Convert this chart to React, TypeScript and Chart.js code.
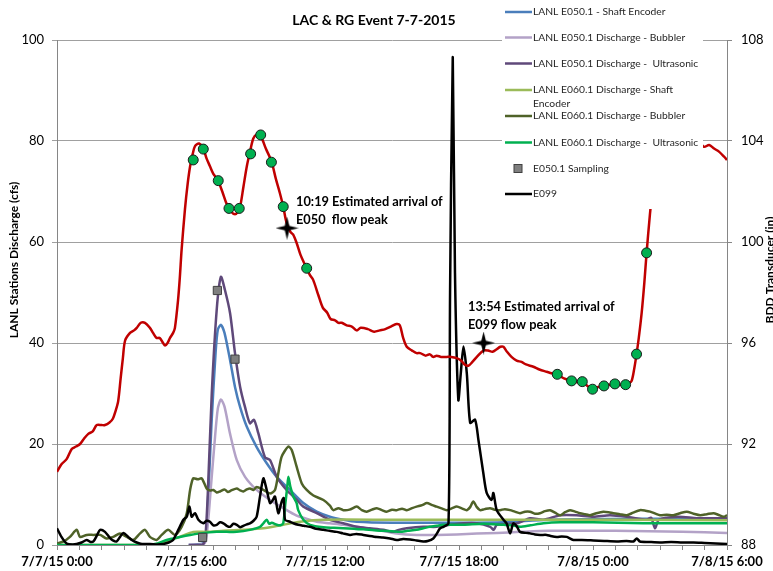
import React, { useEffect, useRef } from 'react';
import { Chart, registerables } from 'chart.js';

Chart.register(...registerables);

// ---- Tick labels / text ----
const xTickLabels = ['7/7/15 0:00', '7/7/15 6:00', '7/7/15 12:00', '7/7/15 18:00', '7/8/15 0:00', '7/8/15 6:00'];
const chartTitle = 'LAC & RG Event 7-7-2015';
const leftAxisTitle = 'LANL Stations Discharge (cfs)';
const rightAxisTitle = 'BDD Transducer (in)';
const note1 = ['10:19 Estimated arrival of', 'E050  flow peak'];
const note2 = ['13:54 Estimated arrival of', 'E099 flow peak'];

// ---- Data: [hours since 7/7/15 0:00, value] ----
const bddTransducer: number[][] = [
  [0, 90.9], [0.2, 91.2], [0.43, 91.4], [0.66, 91.8], [0.85, 91.9], [1.03, 92.0], [1.2, 92.2], [1.4, 92.4], [1.6, 92.5],
  [1.78, 92.75], [2.0, 92.75], [2.15, 92.75], [2.35, 92.85], [2.5, 93.0], [2.62, 93.3], [2.74, 93.7], [2.85, 94.6],
  [2.95, 95.4], [3.05, 96.1], [3.27, 96.4], [3.45, 96.5], [3.57, 96.6], [3.75, 96.8], [3.94, 96.8], [4.16, 96.6],
  [4.3, 96.4], [4.46, 96.2], [4.6, 96.2], [4.75, 96.0], [4.84, 95.9], [4.95, 96.0], [5.06, 96.2], [5.2, 96.4],
  [5.28, 96.6], [5.42, 97.7], [5.5, 98.6], [5.58, 99.7], [5.73, 101.3], [5.85, 102.3], [5.96, 103.0], [6.08, 103.5],
  [6.18, 103.8], [6.36, 103.9], [6.55, 103.7], [6.7, 103.3], [6.85, 103.0], [7.0, 102.7], [7.2, 102.45], [7.4, 102.0],
  [7.6, 101.5], [7.8, 101.2], [7.97, 101.1], [8.1, 101.2], [8.2, 101.4], [8.35, 102.2], [8.5, 103.0], [8.65, 103.6],
  [8.79, 104.1], [8.95, 104.25], [9.12, 104.2], [9.35, 103.7], [9.6, 103.2], [9.8, 102.5], [9.99, 101.9], [10.13, 101.4],
  [10.28, 100.75], [10.45, 100.4], [10.57, 100.3], [10.73, 99.96], [10.9, 99.5], [11.05, 99.2], [11.18, 98.97],
  [11.32, 98.7], [11.47, 98.5], [11.7, 97.9], [11.9, 97.4], [12.1, 97.2], [12.25, 96.95], [12.45, 96.9], [12.6, 96.8],
  [12.75, 96.8], [12.97, 96.7], [13.2, 96.65], [13.42, 96.5], [13.6, 96.6], [13.92, 96.55], [14.2, 96.45], [14.45, 96.5],
  [14.7, 96.55], [14.95, 96.65], [15.2, 96.75], [15.35, 96.7], [15.5, 96.2], [15.66, 95.85], [15.9, 95.7], [16.1, 95.6],
  [16.26, 95.6], [16.5, 95.5], [16.7, 95.55], [16.84, 95.45], [17.0, 95.5], [17.2, 95.45], [17.45, 95.45], [17.65, 95.45],
  [17.9, 95.4], [18.1, 95.3], [18.25, 95.15], [18.42, 95.1], [18.6, 95.25], [18.8, 95.45], [19.09, 95.7], [19.3, 95.7],
  [19.5, 95.65], [19.69, 95.75], [19.85, 95.85], [19.99, 95.85], [20.15, 95.65], [20.35, 95.45], [20.58, 95.3],
  [20.8, 95.25], [21.0, 95.15], [21.33, 95.06], [21.6, 94.95], [21.93, 94.86], [22.15, 94.8], [22.4, 94.76], [22.7, 94.6],
  [23.04, 94.5], [23.3, 94.45], [23.52, 94.47], [23.75, 94.3], [23.98, 94.17], [24.2, 94.25], [24.49, 94.3], [24.75, 94.35],
  [24.98, 94.38], [25.2, 94.35], [25.46, 94.35], [25.6, 94.4], [25.73, 94.5], [25.85, 95.0], [25.95, 95.56], [26.05, 96.2],
  [26.18, 97.2], [26.3, 98.4], [26.4, 99.57], [26.55, 101.1], [26.75, 102.8], [27.0, 104.2], [27.4, 105.0], [27.9, 105.2],
  [28.4, 104.6], [28.75, 104.0], [28.97, 103.77], [29.2, 103.84], [29.42, 103.7], [29.64, 103.58], [29.87, 103.38], [30.0, 103.25],
];

const rgSamples: number[][] = [
  [6.1, 103.25], [6.55, 103.68], [7.22, 102.43], [7.7, 101.33], [8.16, 101.33], [8.67, 103.49], [9.12, 104.24],
  [9.6, 103.16], [10.13, 101.4], [11.18, 98.96], [22.4, 94.76], [23.04, 94.5], [23.52, 94.47], [23.98, 94.17],
  [24.49, 94.3], [24.98, 94.38], [25.46, 94.35], [25.95, 95.56], [26.4, 99.57],
];

const peakArrivals: number[][] = [[10.3, 100.55], [19.1, 96.0]];

const e050ShaftEncoder: number[][] = [
  [5.9, 0], [6.6, 0.5], [6.75, 8], [6.93, 25], [7.1, 38], [7.2, 42.6], [7.34, 43.6], [7.5, 42], [7.75, 36.6], [7.97, 31.3],
  [8.2, 27.3], [8.5, 23.4], [8.94, 19.4], [9.39, 16.2], [9.84, 13.5], [10.43, 10.9], [11.03, 8.3], [11.63, 6.6],
  [12.22, 5.6], [12.82, 5.0], [13.42, 4.6], [15, 4.4], [18, 4.4], [20, 4.5], [22, 5.0], [26, 5.2], [30, 5.2],
];

const e050Bubbler: number[][] = [
  [5.9, 0], [6.6, 0.3], [6.75, 4], [6.9, 12], [7.05, 20], [7.2, 27], [7.34, 28.8], [7.5, 27.4], [7.75, 22], [8.05, 16.8],
  [8.42, 13.5], [8.94, 10.9], [9.54, 8.9], [10.13, 7.3], [10.73, 5.8], [11.03, 5.4], [11.63, 4.6], [12.22, 4.3],
  [12.82, 4.0], [13.42, 3.6], [14.32, 3.0], [15.21, 2.3], [16.1, 2.0], [17.0, 2.0], [17.9, 2.1], [18.8, 2.3], [19.7, 2.4],
  [20.73, 2.6], [22, 2.8], [25, 2.8], [28, 2.6], [30, 2.4],
];

const e050Ultrasonic: number[][] = [
  [5.9, 0], [6.5, 0], [6.63, 1], [6.75, 10], [6.93, 30], [7.15, 46.5], [7.34, 53.1], [7.52, 50.5], [7.75, 45.9], [7.97, 38],
  [8.2, 31.3], [8.42, 27.3], [8.64, 24.1], [8.82, 24.8], [9.01, 22.2], [9.31, 17.4], [9.54, 16.8], [9.84, 13.5],
  [10.28, 10.9], [10.73, 9.0], [11.03, 7.6], [11.63, 6.3], [12.22, 5.0], [12.82, 4.3], [13.42, 3.6], [14.0, 3.3],
  [14.61, 3.0], [15.06, 2.6], [15.3, 3.0], [15.66, 3.3], [16.4, 3.6], [17.0, 3.6], [17.6, 4.0], [18.2, 4.3], [18.8, 4.3],
  [19.4, 3.6], [19.55, 3.0], [19.7, 4.0], [20.6, 4.3], [21.18, 5.3], [21.78, 5.0], [22.53, 5.9], [23.27, 5.9], [24.02, 5.6],
  [24.76, 5.9], [25.5, 5.6], [26.4, 5.0], [26.6, 5.4], [26.78, 3.3], [26.95, 5.0], [27.8, 5.6], [28.65, 5.3], [29.5, 5.3],
  [30, 5.3],
];

const e060ShaftEncoder: number[][] = [
  [0, 0], [4.6, 0], [4.91, 0.7], [5.5, 1.6], [6.1, 2.6], [6.7, 2.6], [7.45, 2.8], [8.34, 3.0], [9.24, 3.3], [10.13, 4.0],
  [10.88, 4.6], [11.93, 5.0], [15, 5.0], [20, 5.0], [25, 5.0], [30, 4.9],
];

const e060Bubbler: number[][] = [
  [0, 0.3], [0.3, 0.7], [0.58, 1.6], [0.88, 3.0], [1.03, 1.6], [1.33, 2.0], [1.63, 2.0], [1.93, 2.0], [2.22, 1.3],
  [2.52, 1.6], [2.82, 2.3], [3.12, 1.6], [3.42, 1.0], [3.72, 2.3], [3.94, 3.0], [4.16, 1.6], [4.46, 1.0], [4.69, 2.0],
  [4.98, 3.0], [5.28, 2.0], [5.58, 3.6], [5.81, 6.3], [5.96, 10.9], [6.1, 13.2], [6.3, 13.0], [6.48, 13.2], [6.7, 11.2],
  [6.85, 10.8], [7.0, 10.9], [7.15, 10.4], [7.3, 10.6], [7.5, 11.0], [7.65, 10.5], [7.8, 10.8], [8.05, 11.2], [8.2, 10.8],
  [8.34, 10.6], [8.5, 11.0], [8.64, 11.2], [8.8, 10.9], [8.94, 11.5], [9.24, 10.9], [9.54, 10.2], [9.76, 10.9],
  [9.91, 14.2], [10.06, 17.5], [10.36, 19.5], [10.51, 18.8], [10.73, 15.5], [10.96, 12.2], [11.18, 10.9], [11.48, 9.8],
  [11.93, 8.9], [12.22, 7.8], [12.37, 6.9], [12.6, 7.3], [12.82, 6.9], [13.1, 7.0], [13.42, 7.6], [13.65, 6.9],
  [13.87, 6.6], [14.1, 7.0], [14.32, 7.3], [14.55, 6.9], [14.76, 6.6], [15.0, 7.0], [15.21, 6.9], [15.45, 7.2],
  [15.66, 6.9], [15.9, 7.3], [16.1, 7.6], [16.35, 7.9], [16.56, 8.3], [16.8, 7.9], [17.0, 7.6], [17.25, 7.2], [17.45, 6.9],
  [17.7, 7.3], [17.9, 7.6], [18.15, 7.2], [18.35, 6.9], [18.5, 7.5], [18.64, 8.6], [18.8, 7.5], [18.94, 6.9], [19.15, 7.1],
  [19.39, 7.3], [19.6, 7.0], [19.84, 6.9], [20.05, 7.1], [20.29, 6.9], [20.5, 6.6], [20.73, 6.3], [20.95, 6.6],
  [21.18, 6.6], [21.4, 6.2], [21.63, 6.3], [21.85, 6.7], [22.08, 6.9], [22.3, 6.4], [22.53, 5.9], [22.75, 6.5],
  [22.97, 6.9], [23.2, 6.6], [23.42, 6.3], [23.65, 6.1], [23.87, 5.9], [24.15, 6.3], [24.46, 6.6], [24.7, 6.5],
  [24.91, 6.3], [25.2, 6.1], [25.51, 5.9], [25.8, 6.4], [26.1, 6.9], [26.35, 6.8], [26.56, 6.6], [26.8, 6.2], [27.0, 5.9],
  [27.3, 6.0], [27.6, 5.9], [27.9, 6.3], [28.2, 6.6], [28.5, 6.2], [28.8, 5.9], [29.1, 6.1], [29.4, 6.3], [29.6, 6.0],
  [29.85, 5.6], [30, 5.9],
];

const e060Ultrasonic: number[][] = [
  [0, 0], [1, 0], [2, 0], [3, 0], [4, 0], [4.5, 0.3], [4.91, 1.0], [5.2, 1.3], [5.5, 1.6], [5.96, 2.0], [6.4, 2.3],
  [6.8, 2.5], [7.15, 2.6], [7.6, 2.6], [8.05, 2.6], [8.64, 3.0], [9.09, 3.6], [9.24, 4.3], [9.39, 5.0], [9.5, 4.2],
  [9.61, 4.4], [9.84, 4.0], [10.0, 3.9], [10.13, 4.3], [10.22, 8.0], [10.31, 11.5], [10.36, 13.5], [10.45, 11.5],
  [10.58, 9.6], [10.73, 8.3], [10.8, 6.9], [11.03, 5.0], [11.33, 4.0], [11.93, 3.5], [12.4, 3.4], [12.82, 3.3],
  [13.3, 3.2], [13.72, 3.1], [14.2, 2.9], [14.61, 2.8], [15.0, 2.7], [15.36, 2.6], [15.7, 2.8], [16.1, 3.0], [16.4, 3.3],
  [16.7, 3.6], [17.0, 3.8], [17.3, 4.0], [18.2, 4.0], [19.1, 4.2], [20.0, 4.0], [20.4, 3.9], [20.73, 3.6], [21.2, 3.9],
  [21.78, 4.3], [22.53, 4.5], [24.0, 4.5], [26.25, 4.3], [28, 4.3], [30, 4.3],
];

const e050Sampling: number[][] = [[6.52, 1.5], [7.18, 50.4], [7.97, 36.8]];

const e099: number[][] = [
  [0, 3.3], [0.2, 1.6], [0.43, 0.3], [0.7, 0.1], [0.88, 0.2], [1.1, 0.5], [1.33, 1.0], [1.5, 0.6], [1.63, 0.7],
  [1.8, 2.0], [1.93, 3.0], [2.15, 2.6], [2.37, 1.4], [2.5, 0.9], [2.67, 0.7], [2.85, 1.8], [2.97, 2.4], [3.19, 1.6],
  [3.35, 1.0], [3.57, 0.5], [3.8, 0.2], [4.16, 0.2], [4.5, 0.1], [4.76, 0.2], [5.0, 0.5], [5.2, 1.0], [5.43, 3.0],
  [5.66, 5.0], [5.81, 5.6], [5.93, 7.6], [6.03, 5.6], [6.18, 6.3], [6.33, 5.0], [6.55, 4.3], [6.7, 4.8], [6.85, 4.6],
  [7.0, 3.9], [7.15, 4.0], [7.3, 4.5], [7.45, 4.3], [7.6, 3.8], [7.75, 3.6], [7.9, 4.2], [8.05, 4.0], [8.2, 3.5],
  [8.34, 3.8], [8.5, 4.1], [8.64, 4.3], [8.8, 4.8], [8.94, 5.6], [9.09, 9.6], [9.24, 13.2], [9.39, 10.9], [9.54, 8.3],
  [9.65, 8.8], [9.76, 9.6], [9.91, 6.3], [10.06, 8.6], [10.15, 9.3], [10.21, 5.0], [10.43, 4.6], [10.58, 4.3],
  [10.8, 4.0], [11.05, 3.8], [11.33, 3.6], [11.6, 3.2], [11.93, 3.0], [12.2, 2.8], [12.52, 2.6], [12.8, 2.3],
  [13.12, 2.0], [13.4, 2.2], [13.72, 2.0], [14.0, 1.8], [14.32, 1.6], [14.6, 1.5], [14.91, 1.3], [15.21, 1.0],
  [15.5, 1.2], [15.81, 1.1], [16.1, 0.9], [16.4, 0.7], [16.6, 0.8], [16.85, 1.3], [17.0, 2.2], [17.15, 3.3], [17.3, 3.6],
  [17.53, 4.3], [17.6, 50], [17.72, 96.6], [17.82, 53.9], [17.97, 28.7], [18.08, 34], [18.2, 39.3], [18.35, 34],
  [18.5, 24.2], [18.72, 24.8], [18.87, 20.8], [19.09, 14.2], [19.24, 10.3], [19.46, 8.9], [19.54, 10.3], [19.69, 6.9],
  [19.99, 5.0], [20.13, 4.3], [20.29, 2.3], [20.43, 4.3], [20.6, 3.6], [20.73, 2.6], [21.0, 2.4], [21.18, 2.3],
  [21.4, 2.1], [21.63, 2.0], [21.93, 2.0], [22.1, 1.8], [22.38, 1.6], [22.6, 1.7], [22.83, 1.6], [23.12, 1.0],
  [23.5, 1.0], [24.02, 0.9], [24.5, 0.8], [25.06, 0.7], [25.5, 0.8], [25.81, 0.7], [25.96, 1.3], [26.1, 0.7],
  [26.5, 0.6], [27.0, 0.5], [27.5, 0.6], [28.0, 0.5], [28.5, 0.5], [29.0, 0.4], [29.5, 0.3], [30.0, 0.2],
];

const toXY = (arr: number[][]) => arr.map(([x, y]) => ({ x, y }));

const FONT = 'Lato, "Open Sans", sans-serif';

function makeStar(size: number): HTMLCanvasElement {
  const c = document.createElement('canvas');
  c.width = size;
  c.height = size;
  const ctx = c.getContext('2d')!;
  const m = size / 2;
  const w = size * 0.1;
  ctx.beginPath();
  ctx.moveTo(m, 0);
  ctx.lineTo(m + w, m - w);
  ctx.lineTo(size, m);
  ctx.lineTo(m + w, m + w);
  ctx.lineTo(m, size);
  ctx.lineTo(m - w, m + w);
  ctx.lineTo(0, m);
  ctx.lineTo(m - w, m - w);
  ctx.closePath();
  ctx.fillStyle = '#000';
  ctx.fill();
  return c;
}

export default function App() {
  const ref = useRef<HTMLCanvasElement | null>(null);

  useEffect(() => {
    if (!ref.current) return;
    const star = makeStar(23);

    const lineDs = (label: string, data: number[][], color: string, order: number) => ({
      label,
      data: toXY(data),
      borderColor: color,
      backgroundColor: color,
      borderWidth: 2.5,
      pointRadius: 0,
      tension: 0.25,
      yAxisID: 'y',
      order,
    });

    const overlay = {
      id: 'overlay',
      afterDraw(chart: any) {
        const ctx = chart.ctx as CanvasRenderingContext2D;
        ctx.save();
        // legend box
        ctx.fillStyle = '#ffffff';
        ctx.fillRect(502, 0, 201, 209);
        const items = [
          { t: ['LANL E050.1 - Shaft Encoder'], c: '#4a7ebb', y: 12 },
          { t: ['LANL E050.1 Discharge - Bubbler'], c: '#b3a2c7', y: 37.5 },
          { t: ['LANL E050.1 Discharge -  Ultrasonic'], c: '#5f497a', y: 63.5 },
          { t: ['LANL E060.1 Discharge - Shaft', 'Encoder'], c: '#9bbb59', y: 90 },
          { t: ['LANL E060.1 Discharge - Bubbler'], c: '#4f6228', y: 116 },
          { t: ['LANL E060.1 Discharge -  Ultrasonic'], c: '#00b050', y: 142.5 },
          { t: ['E050.1 Sampling'], c: 'square', y: 168.5 },
          { t: ['E099'], c: '#000000', y: 194 },
        ];
        ctx.font = `10.3px ${FONT}`;
        ctx.textBaseline = 'middle';
        ctx.textAlign = 'left';
        for (const it of items) {
          if (it.c === 'square') {
            ctx.fillStyle = '#7f7f7f';
            ctx.fillRect(514, it.y - 4, 8, 8);
            ctx.strokeStyle = '#404040';
            ctx.lineWidth = 1;
            ctx.strokeRect(514, it.y - 4, 8, 8);
          } else {
            ctx.strokeStyle = it.c;
            ctx.lineWidth = 2.5;
            ctx.beginPath();
            ctx.moveTo(505, it.y);
            ctx.lineTo(532, it.y);
            ctx.stroke();
          }
          ctx.fillStyle = '#262626';
          it.t.forEach((s, i) => ctx.fillText(s, 533, it.y + i * 13.5));
        }
        // title
        ctx.fillStyle = '#000';
        ctx.font = `bold 14px ${FONT}`;
        ctx.textAlign = 'center';
        ctx.fillText(chartTitle, 374, 20);
        // annotations
        ctx.font = `bold 12.8px ${FONT}`;
        ctx.textAlign = 'left';
        ctx.fillText(note1[0], 296, 202);
        ctx.fillText(note1[1], 296, 219.5);
        ctx.fillText(note2[0], 468, 307);
        ctx.fillText(note2[1], 468, 324.5);
        // axis titles
        ctx.font = `bold 12px ${FONT}`;
        ctx.textAlign = 'center';
        ctx.save();
        ctx.translate(14, 260);
        ctx.rotate(-Math.PI / 2);
        ctx.fillText(leftAxisTitle, 0, 0);
        ctx.restore();
        ctx.save();
        ctx.translate(770, 270);
        ctx.rotate(-Math.PI / 2);
        ctx.fillText(rightAxisTitle, 0, 0);
        ctx.restore();
        ctx.restore();
      },
    };

    const chart = new Chart(ref.current, {
      type: 'line',
      data: {
        datasets: [
          {
            label: 'Estimated peak arrival',
            data: toXY(peakArrivals),
            yAxisID: 'y2',
            showLine: false,
            pointStyle: star as any,
            pointRadius: 11,
            order: 0,
          } as any,
          {
            label: 'RG Sampling',
            data: toXY(rgSamples),
            yAxisID: 'y2',
            showLine: false,
            pointStyle: 'circle',
            pointRadius: 5,
            pointBackgroundColor: '#00b050',
            pointBorderColor: '#1a1a1a',
            pointBorderWidth: 1,
            order: 1,
          } as any,
          {
            label: 'BDD Transducer',
            data: toXY(bddTransducer),
            yAxisID: 'y2',
            borderColor: '#c00000',
            borderWidth: 2.5,
            pointRadius: 0,
            tension: 0.3,
            order: 2,
          } as any,
          {
            label: 'E050.1 Sampling',
            data: toXY(e050Sampling),
            yAxisID: 'y',
            showLine: false,
            pointStyle: 'rect',
            pointRadius: 5.8,
            pointBackgroundColor: '#7f7f7f',
            pointBorderColor: '#404040',
            pointBorderWidth: 1,
            order: 3,
          } as any,
          lineDs('E099', e099, '#000000', 4),
          lineDs('LANL E060.1 Discharge -  Ultrasonic', e060Ultrasonic, '#00b050', 5),
          lineDs('LANL E060.1 Discharge - Bubbler', e060Bubbler, '#4f6228', 6),
          lineDs('LANL E060.1 Discharge - Shaft Encoder', e060ShaftEncoder, '#9bbb59', 7),
          lineDs('LANL E050.1 Discharge -  Ultrasonic', e050Ultrasonic, '#5f497a', 8),
          lineDs('LANL E050.1 Discharge - Bubbler', e050Bubbler, '#b3a2c7', 9),
          lineDs('LANL E050.1 - Shaft Encoder', e050ShaftEncoder, '#4a7ebb', 10),
        ] as any,
      },
      options: {
        responsive: false,
        animation: false,
        layout: { padding: { top: 40, left: 0, right: 0, bottom: 0 } },
        plugins: {
          legend: { display: false },
          title: { display: false },
          tooltip: { enabled: false },
        },
        scales: {
          x: {
            type: 'linear',
            min: 0,
            max: 30,
            border: { color: '#868686', width: 1 },
            grid: { drawOnChartArea: false, drawTicks: true, tickLength: 5, color: '#868686' },
            ticks: {
              stepSize: 1,
              autoSkip: false,
              maxRotation: 0,
              minRotation: 0,
              padding: 4,
              color: '#000',
              font: { family: FONT, size: 13, weight: 'bold' },
              callback: (v: any) => (Number(v) % 6 === 0 ? xTickLabels[Number(v) / 6] : ''),
            },
            afterFit: (s: any) => { s.height = 26; },
          },
          y: {
            position: 'left',
            min: 0,
            max: 100,
            border: { color: '#868686', width: 1 },
            grid: { color: '#a0a0a0', tickLength: 5, drawTicks: true },
            ticks: {
              stepSize: 20,
              padding: 8,
              color: '#000',
              font: { family: FONT, size: 13 },
            },
            afterFit: (s: any) => { s.width = 57; },
          },
          y2: {
            position: 'right',
            min: 88,
            max: 108,
            border: { color: '#868686', width: 1 },
            grid: { drawOnChartArea: false, tickLength: 5, color: '#868686' },
            ticks: {
              stepSize: 4,
              padding: 9,
              color: '#000',
              font: { family: FONT, size: 13 },
            },
            afterFit: (s: any) => { s.width = 46; },
          },
        },
      } as any,
      plugins: [overlay],
    });

    return () => chart.destroy();
  }, []);

  return (
    <div style={{ position: 'absolute', left: 0, top: 0, width: 773, height: 571, background: '#fff' }}>
      <canvas ref={ref} width={773} height={571} />
    </div>
  );
}
